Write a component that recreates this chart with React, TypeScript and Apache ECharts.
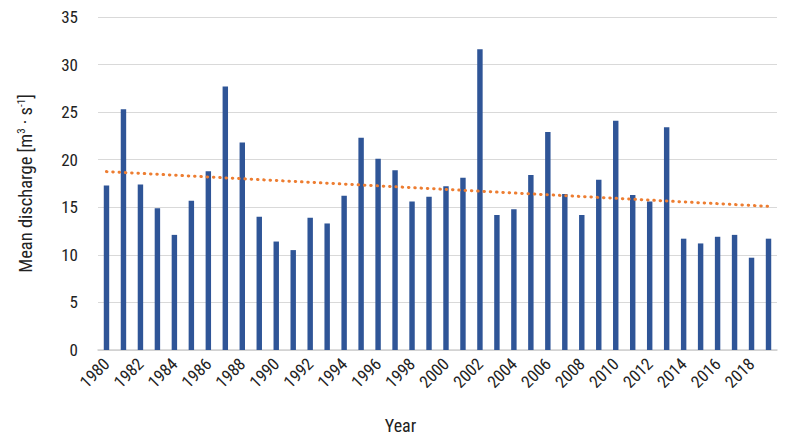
import React, { useEffect, useRef } from "react";
import * as echarts from "echarts";

const years: string[] = [
  "1980","1981","1982","1983","1984","1985","1986","1987","1988","1989",
  "1990","1991","1992","1993","1994","1995","1996","1997","1998","1999",
  "2000","2001","2002","2003","2004","2005","2006","2007","2008","2009",
  "2010","2011","2012","2013","2014","2015","2016","2017","2018","2019",
];

const discharge: number[] = [
  17.3, 25.3, 17.4, 14.9, 12.1, 15.7, 18.8, 27.7, 21.8, 14.0,
  11.4, 10.5, 13.9, 13.3, 16.2, 22.3, 20.1, 18.9, 15.6, 16.1,
  17.2, 18.1, 31.6, 14.2, 14.8, 18.4, 22.9, 16.4, 14.2, 17.9,
  24.1, 16.3, 15.6, 23.4, 11.7, 11.2, 11.9, 12.1, 9.7, 11.7,
];

// Linear trend endpoints (first and last year)
const trendEnds: number[] = [18.75, 15.1];

const yTicks = { min: 0, max: 35, interval: 5 };

const FONT = "'Roboto Condensed', 'Liberation Sans', sans-serif";

export default function App() {
  const ref = useRef<HTMLDivElement>(null);

  useEffect(() => {
    document.body.style.margin = "0";
    if (!ref.current) return;
    const chart = echarts.init(ref.current, undefined, { renderer: "svg" });
    const trendData = years.map((_, i) =>
      i === 0 ? trendEnds[0] : i === years.length - 1 ? trendEnds[1] : null
    );
    chart.setOption({
      animation: false,
      grid: { left: 98, right: 23, top: 17, bottom: 95, containLabel: false },
      xAxis: {
        type: "category",
        data: years,
        name: "Year",
        nameLocation: "middle",
        nameGap: 66,
        nameTextStyle: { fontFamily: FONT, fontSize: 18, color: "#222", padding: [0, 74, 0, 0] },
        axisLine: { lineStyle: { color: "#d0d0d0", width: 1.5 } },
        axisTick: { show: false },
        axisLabel: {
          interval: 1,
          rotate: 45,
          margin: 11,
          fontFamily: FONT,
          fontSize: 17,
          color: "#222",
        },
      },
      yAxis: {
        type: "value",
        min: yTicks.min,
        max: yTicks.max,
        interval: yTicks.interval,
        name: "Mean discharge [m{sup|3} · s{sup|-1}]",
        nameLocation: "middle",
        nameGap: 62,
        nameTextStyle: {
          fontFamily: FONT,
          fontSize: 18.5,
          color: "#222",
          rich: {
            sup: { fontFamily: FONT, fontSize: 11, color: "#222", verticalAlign: "top", padding: [0, 0, 9, 0] },
          },
        },
        axisLine: { show: false },
        axisTick: { show: false },
        splitLine: { lineStyle: { color: "#d9d9d9", width: 1 } },
        axisLabel: { fontFamily: FONT, fontSize: 17, color: "#222", margin: 20 },
      },
      series: [
        {
          type: "bar",
          data: discharge,
          barWidth: "32%",
          itemStyle: { color: "#2f5597" },
        },
        {
          type: "line",
          data: trendData,
          connectNulls: true,
          showSymbol: false,
          symbol: "none",
          lineStyle: { color: "#ed7d31", width: 3, type: [0.5, 5.8], cap: "round" },
          z: 5,
        },
      ],
    });
    return () => chart.dispose();
  }, []);

  return <div ref={ref} style={{ width: 800, height: 445 }} />;
}
